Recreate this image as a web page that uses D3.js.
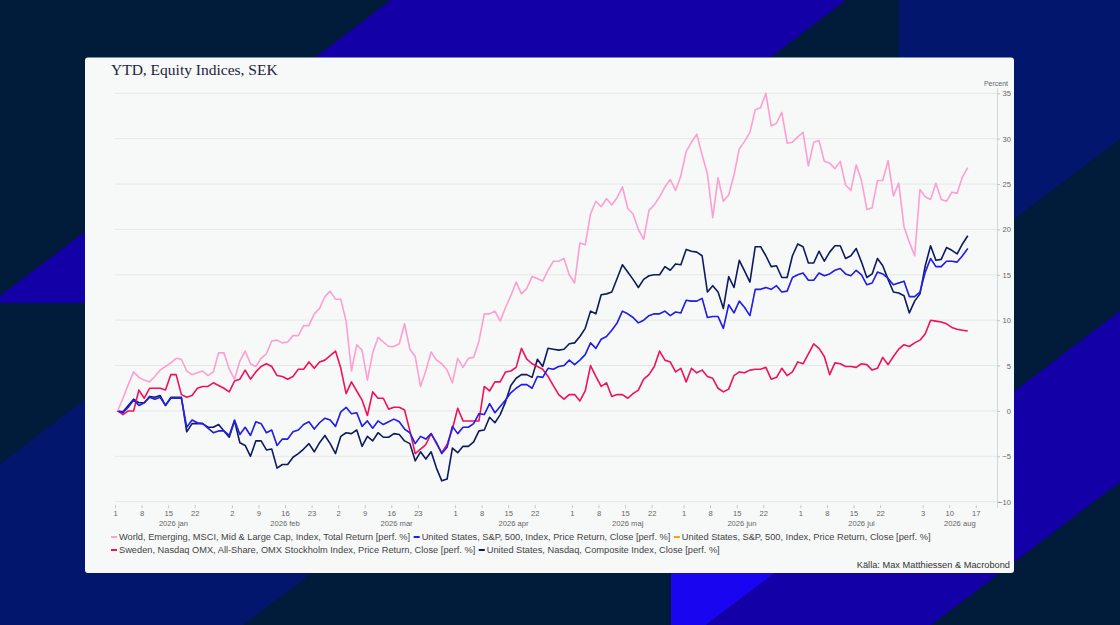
<!DOCTYPE html>
<html>
<head>
<meta charset="utf-8">
<script src="https://cdn.jsdelivr.net/npm/d3@7"></script>
<style>
  html, body { margin: 0; padding: 0; background: #011b3a; }
  svg { display: block; }
</style>
</head>
<body>
<svg id="chart" width="1120" height="625"></svg>
<script>
/* ---------------- DATA ---------------- */
const chartTitle = "YTD, Equity Indices, SEK";
const unitLabel = "Percent";
const sourceLabel = "Källa: Max Matthiessen & Macrobond";

// trading days (weekdays) from 1 Jan 2026; the axis runs to 21 Aug
const firstDay = "2026-01-01";
const axisEnd = "2026-08-21";

const tickDates = [
  "2026-01-01","2026-01-08","2026-01-15","2026-01-22",
  "2026-02-02","2026-02-09","2026-02-16","2026-02-23",
  "2026-03-02","2026-03-09","2026-03-16","2026-03-23",
  "2026-04-01","2026-04-08","2026-04-15","2026-04-22",
  "2026-05-01","2026-05-08","2026-05-15","2026-05-22",
  "2026-06-01","2026-06-08","2026-06-15","2026-06-22",
  "2026-07-01","2026-07-08","2026-07-15","2026-07-22",
  "2026-08-03","2026-08-10","2026-08-17"
];
const monthNames = ["jan","feb","mar","apr","maj","jun","jul","aug"];
const yTicks = [-10,-5,0,5,10,15,20,25,30,35];

const seriesNames = [
  "World, Emerging, MSCI, Mid & Large Cap, Index, Total Return [perf. %]",
  "United States, S&P, 500, Index, Price Return, Close [perf. %]",
  "United States, S&P, 500, Index, Price Return, Close [perf. %]",
  "Sweden, Nasdaq OMX, All-Share, OMX Stockholm Index, Price Return, Close [perf. %]",
  "United States, Nasdaq, Composite Index, Close [perf. %]"
];
const seriesColors = ["#fd9fcf", "#1e1ef2", "#f5a800", "#f0115b", "#0e1a5e"];

const worldEm = [
  0,1.4,2.9,4.3,3.7,3.4,3.2,3.8,4.5,4.9,5.3,5.8,5.7,4.4,4.0,4.2,4.4,3.9,4.3,6.4,
  6.4,4.6,3.5,5.5,6.6,5.2,4.9,5.8,
  6.3,7.7,7.8,7.5,7.6,8.3,8.3,9.4,9.4,10.7,11.3,12.6,13.2,12.3,12.3,9.9,4.4,7.3,6.7,3.4,
  6.4,8.1,7.6,7.1,7.1,7.4,9.6,
  6.8,6.0,2.7,4.4,6.5,5.6,5.2,4.5,3.1,5.8,4.8,5.8,5.9,7.7,10.7,10.7,11.0,9.9,11.4,12.7,
  14.2,12.9,13.5,14.8,14.6,14.3,15.5,
  16.5,16.5,16.8,15.0,14.1,18.5,18.3,21.7,23.1,22.5,23.4,22.7,23.5,24.7,22.3,21.7,20.0,18.9,22.1,22.7,
  23.6,24.7,25.5,24.3,25.9,28.6,29.6,
  30.5,28.2,26.1,21.3,25.7,23.1,23.8,26.0,28.9,29.7,30.7,33.2,33.4,35.0,31.4,31.7,32.9,29.5,29.6,30.2,
  30.7,27.0,29.6,29.8,27.5,27.3,26.7,
  27.5,24.9,24.3,27.1,25.4,22.2,22.4,25.4,25.4,27.6,23.7,25.1,20.3,18.6,17.1,24.4,23.6,23.3,25.1,23.3,
  23.1,24.1,24.0,25.8,26.8
];

const sp500 = [
  0,-0.2,0.4,1.2,0.6,0.9,1.5,1.3,1.5,0.6,1.4,1.4,1.4,-1.8,-1.0,-1.3,-1.4,-1.9,-2.4,-2.2,
  -2.2,-2.7,-1.0,-2.6,-1.8,-2.7,-1.2,-1.4,
  -2.4,-2.1,-3.8,-3.1,-3.1,-2.3,-2.1,-1.5,-1.2,-2.0,-1.3,-0.8,-1.0,-1.7,-0.1,0.4,-0.3,-0.2,-1.7,-1.1,
  -1.9,-1.1,-1.5,-1.2,-0.9,-1.2,-2.0,
  -2.4,-3.6,-2.8,-3.1,-2.5,-3.5,-4.7,-4.0,-1.7,-2.5,-1.8,-1.8,-1.4,-0.3,-0.4,0.8,-0.2,0.5,1.2,2.0,
  2.5,2.9,2.9,2.5,3.8,3.7,4.7,
  4.6,4.9,5.0,5.6,5.1,5.6,6.2,7.5,6.9,7.9,8.2,8.9,9.7,11.0,10.7,10.3,9.7,10.0,10.5,10.7,
  10.7,11.0,10.5,10.9,10.8,12.2,12.1,
  12.1,12.4,10.3,10.4,10.4,9.1,11.7,10.8,12.1,11.4,10.5,13.4,13.4,13.6,13.4,13.8,13.1,13.2,14.7,15.0,
  15.2,14.4,14.4,15.2,14.9,15.1,15.5,
  15.7,15.1,14.9,15.5,15.0,13.9,14.1,15.3,15.1,14.6,13.9,14.1,14.3,12.6,12.6,13.1,15.3,16.8,15.9,15.9,
  16.5,16.5,16.4,17.1,17.9
];

// the orange S&P 500 series has the same values and lies hidden under the blue one
const sp500Close = sp500;

const omxStockholm = [
  0,-0.4,0,0,2.3,1.4,2.5,2.5,2.5,2.3,4.0,4.0,1.8,1.5,1.7,2.5,2.7,2.7,3.1,2.8,
  2.5,2.1,3.3,3.5,4.5,3.5,4.3,4.9,
  5.2,4.9,3.9,3.8,3.5,3.8,4.6,4.6,5.4,4.7,5.4,5.6,6.1,6.6,4.7,1.9,3.2,2.2,1.2,-0.5,
  2.1,1.4,1.4,0.2,0.4,0.4,0.1,
  -2.2,-4.7,-4.2,-3.7,-2.5,-3.6,-4.6,-3.7,-2.0,0.3,-1.1,-1.1,-1.1,-1.1,2.7,2.2,3.2,3.2,4.3,4.4,
  4.8,6.9,5.7,5.2,4.9,4.6,3.8,
  2.8,1.8,1.3,1.8,1.8,1.1,2.2,5.0,3.8,2.7,3.1,1.6,1.8,1.8,1.4,1.9,2.3,3.5,4.0,4.9,
  6.6,5.6,5.4,4.3,4.7,3.2,4.7,
  4.2,4.5,3.8,3.6,2.5,2.1,2.4,3.9,4.3,4.2,4.5,4.6,4.6,4.8,3.5,3.7,4.7,3.9,4.3,5.4,
  5.2,6.3,7.4,6.9,6.0,4.0,5.3,
  5.2,4.9,4.9,4.8,5.2,5.1,4.5,4.7,5.9,5.1,6.0,6.8,7.3,7.1,7.5,7.8,8.5,10.0,9.9,9.8,
  9.6,9.2,9.0,8.9,8.8
];

const nasdaqComp = [
  0,-0.1,0.6,1.3,0.9,0.9,1.6,1.5,1.7,0.6,1.5,1.5,1.5,-2.3,-1.4,-1.4,-1.4,-1.8,-1.8,-1.5,
  -2.2,-2.9,-1.1,-3.5,-3.8,-5.0,-3.3,-3.3,
  -4.3,-4.2,-6.3,-5.9,-5.9,-5.1,-4.7,-4.2,-3.6,-4.5,-3.5,-2.7,-3.6,-4.7,-2.8,-2.4,-2.5,-2.1,-3.9,-2.8,
  -3.3,-2.4,-2.9,-2.9,-2.5,-2.6,-3.3,
  -3.6,-5.5,-4.5,-5.3,-4.5,-6.3,-7.7,-7.5,-4.1,-4.6,-3.9,-3.9,-3.4,-2.2,-2.1,-0.7,-1.3,-0.4,1.0,2.8,
  3.6,4.0,4.0,3.7,5.7,4.9,6.9,
  6.8,6.7,6.8,7.4,7.5,8.2,9.1,11.0,10.7,12.8,12.9,13.1,14.6,16.1,15.3,14.5,13.6,14.5,14.9,15.0,
  15.0,15.9,15.5,16.2,16.1,17.8,17.6,
  17.5,17.1,13.1,13.8,13.1,11.3,14.8,13.6,16.6,15.4,14.2,18.1,18.1,17.1,15.9,16.0,14.7,14.7,17.1,18.4,
  18.1,16.3,16.3,17.6,16.5,17.5,18.2,
  18.2,16.8,17.1,17.9,16.4,14.7,15.1,16.8,16.0,14.5,13.1,13.0,12.7,10.8,12.1,12.9,16.0,18.2,16.6,16.7,
  18.0,17.7,17.3,18.4,19.3
];

const seriesValues = [worldEm, sp500, sp500Close, omxStockholm, nasdaqComp];

/* ---------------- LAYOUT ---------------- */
const W = 1120, H = 625;
const card = {x: 85, y: 57.5, w: 929, h: 515.5};
const plot = {left: 115, right: 997, top: 93.3, bottom: 501.7};
const font = "'Liberation Sans', Arial, sans-serif";

const svg = d3.select("#chart");

/* ---------------- BACKGROUND ---------------- */
const bg = svg.append("g");
bg.append("rect").attr("width", W).attr("height", H).attr("fill", "#011b3a");

const shapes = [
  {fill: "#1300a6", pts: [[391,0],[846,0],[446,303],[0,303],[0,296]]},
  {fill: "#03166e", pts: [[899,0],[1120,0],[1120,139],[899,306]]},
  {fill: "#03166e", pts: [[0,464],[0,625],[243,625],[804,200],[348,200]]},
  {fill: "#1a05f0", pts: [[671,520],[845,520],[706,625],[671,625]]},
  {fill: "#1300a6", pts: [[1120,311],[1120,482],[931,625],[706,625]]}
];
bg.selectAll("polygon")
  .data(shapes)
  .join("polygon")
  .attr("points", d => d.pts.map(p => p.join(",")).join(" "))
  .attr("fill", d => d.fill);

/* ---------------- CARD ---------------- */
svg.append("rect")
  .attr("x", card.x).attr("y", card.y)
  .attr("width", card.w).attr("height", card.h)
  .attr("rx", 3)
  .attr("fill", "#f7f8f8");

svg.append("text")
  .attr("x", 111).attr("y", 75)
  .style("font-family", "'Liberation Serif', 'DejaVu Serif', serif")
  .style("font-size", "15.5px")
  .style("fill", "#1b2340")
  .text(chartTitle);

/* ---------------- SCALES ---------------- */
const parse = d3.timeParse("%Y-%m-%d");
const fmt = d3.timeFormat("%Y-%m-%d");
const tradingDays = d3.timeDay.range(parse(firstDay), parse(axisEnd))
  .filter(d => d.getDay() !== 0 && d.getDay() !== 6);
const dayIndex = new Map(tradingDays.map((d, i) => [fmt(d), i]));

const x = d3.scaleLinear()
  .domain([0, tradingDays.length])
  .range([plot.left, plot.right]);

const y = d3.scaleLinear()
  .domain([-10, 35])
  .range([plot.bottom, plot.top]);

/* ---------------- GRID ---------------- */
svg.append("g")
  .selectAll("line")
  .data(yTicks)
  .join("line")
  .attr("x1", plot.left).attr("x2", plot.right)
  .attr("y1", d => y(d)).attr("y2", d => y(d))
  .attr("stroke", "#e6e8e8")
  .attr("stroke-width", 1);

/* ---------------- AXES ---------------- */
const xAxis = svg.append("g")
  .attr("transform", `translate(0,${plot.bottom + 3.5})`)
  .call(d3.axisBottom(x)
    .tickValues(tickDates.map(t => dayIndex.get(t)))
    .tickFormat(i => tradingDays[i].getDate())
    .tickSize(3)
    .tickPadding(2));
xAxis.select(".domain").remove();
xAxis.selectAll(".tick line").attr("stroke", "#c4c6c6");
xAxis.selectAll("text")
  .style("font-family", font).style("font-size", "7.6px").style("fill", "#666");

// month labels, centred on each month's visible span
const months = d3.groups(tradingDays.map((d, i) => ({m: d.getMonth(), i})), d => d.m);
svg.append("g")
  .selectAll("text")
  .data(months)
  .join("text")
  .attr("x", ([, days]) => x((days[0].i + Math.min(days[days.length - 1].i + 1, tradingDays.length)) / 2))
  .attr("y", 525.5)
  .attr("text-anchor", "middle")
  .style("font-family", font).style("font-size", "7.6px").style("fill", "#666")
  .text(([m]) => "2026 " + monthNames[m]);

const yAxis = svg.append("g")
  .attr("transform", `translate(${plot.right},0)`)
  .call(d3.axisRight(y).tickValues(yTicks).tickSize(3).tickFormat(d3.format("d")));
yAxis.select(".domain")
  .attr("stroke", "#d6d8d8")
  .attr("d", `M0.5,${plot.top - 5}V${plot.bottom + 6}`);
yAxis.selectAll(".tick line").attr("stroke", "#c4c6c6");
yAxis.selectAll("text")
  .attr("x", 14)
  .attr("text-anchor", "end")
  .style("font-family", font).style("font-size", "7.6px").style("fill", "#666");

svg.append("text")
  .attr("x", 1008).attr("y", 86)
  .attr("text-anchor", "end")
  .style("font-family", font).style("font-size", "7px").style("fill", "#666")
  .text(unitLabel);

/* ---------------- LINES ---------------- */
const line = d3.line()
  .x((d, i) => x(i + 0.5))
  .y(d => y(d));

const series = seriesNames.map((name, k) => ({name, color: seriesColors[k], values: seriesValues[k]}));

// first legend entry on top; the hidden orange line is drawn thinner under the blue
svg.append("g")
  .selectAll("path")
  .data(series.slice().reverse())
  .join("path")
  .attr("fill", "none")
  .attr("stroke", d => d.color)
  .attr("stroke-width", d => d.color === seriesColors[2] ? 1 : 1.6)
  .attr("stroke-linejoin", "round")
  .attr("d", d => line(d.values));

/* ---------------- LEGEND ---------------- */
const legend = svg.append("g");
const legendLeft = 111, legendMax = 1010, rowH = 13;
let lx = legendLeft, row = 0;
series.forEach(s => {
  const g = legend.append("g");
  const t = g.append("text")
    .attr("x", 8)
    .style("font-family", font).style("font-size", "9.25px").style("fill", "#444")
    .text(s.name);
  const w = 8 + t.node().getComputedTextLength();
  if (lx + w > legendMax) { lx = legendLeft; row++; }
  const ly = 537 + row * rowH;
  g.attr("transform", `translate(${lx},${ly})`);
  t.attr("y", 3.3);
  g.append("line")
    .attr("x1", 0).attr("x2", 6)
    .attr("stroke", s.color).attr("stroke-width", 2);
  lx += w + 3.5;
});

svg.append("text")
  .attr("x", 1010).attr("y", 568)
  .attr("text-anchor", "end")
  .style("font-family", font).style("font-size", "9.25px").style("fill", "#333")
  .text(sourceLabel);
</script>
</body>
</html>
